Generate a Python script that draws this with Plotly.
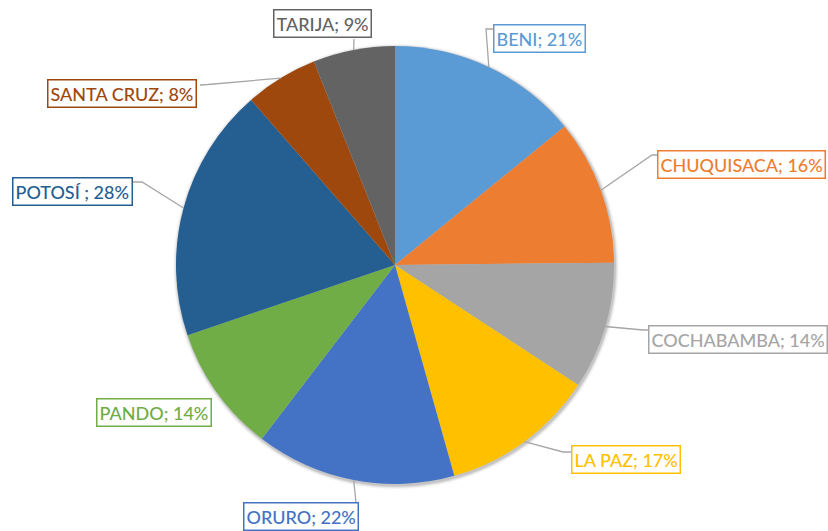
import math
import plotly.graph_objects as go

# ---- data ----
departments = ["BENI", "CHUQUISACA", "COCHABAMBA", "LA PAZ", "ORURO",
               "PANDO", "POTOSÍ", "SANTA CRUZ", "TARIJA"]
percent_values = [21, 16, 14, 17, 22, 14, 28, 8, 9]
label_texts = ["BENI; 21%", "CHUQUISACA; 16%", "COCHABAMBA; 14%", "LA PAZ; 17%",
               "ORURO; 22%", "PANDO; 14%", "POTOSÍ ; 28%", "SANTA CRUZ; 8%", "TARIJA; 9%"]

# ---- styling / layout ----
colors = ["#5B9BD5", "#ED7D31", "#A5A5A5", "#FFC000", "#4472C4",
          "#70AD47", "#255E91", "#9E480E", "#636363"]
W, H = 828, 531
CX, CY, R = 395, 265, 219  # pie centre and radius in pixels

# label box centres, leader anchor on box and bend point (pixels); None = no leader
label_layout = [
    ((539, 38.5), (494, 29), (486, 29)),
    ((741, 164.5), (660, 155), (652, 155)),
    ((738, 339), (651, 330), (643, 330)),
    ((626, 459.5), (572, 452), (563, 452)),
    ((301, 516.5), (356, 502), (356, 502)),
    ((154, 412), None, None),
    ((72, 191), (133, 182), (142, 182)),
    ((122.5, 94), (200, 85), (208, 84.5)),
    ((322, 23.5), (354, 39), (354, 39)),
]
FONT = "Lato"


def px(x):
    return x / W


def py(y):
    return 1 - y / H


fig = go.Figure(go.Pie(
    labels=departments,
    values=percent_values,
    sort=False,
    direction="clockwise",
    rotation=0,
    marker=dict(colors=colors, line=dict(width=0)),
    textinfo="none",
    hoverinfo="label+value",
    showlegend=False,
    domain=dict(x=[px(CX - R), px(CX + R)], y=[py(CY + R), py(CY - R)]),
))

shapes = []
# soft shadow around the pie
for i, op in enumerate([0.10, 0.07, 0.045, 0.025]):
    d = i + 1
    shapes.append(dict(type="circle", xref="paper", yref="paper", layer="below",
                       x0=px(CX - R - d + 1), x1=px(CX + R + d + 1),
                       y0=py(CY + R + d + 1.5), y1=py(CY - R - d + 1.5),
                       line=dict(width=0), fillcolor=f"rgba(0,0,0,{op})"))

total = sum(percent_values)
annotations = []
cum = 0
for text, val, col, (center, anchor, bend) in zip(label_texts, percent_values, colors, label_layout):
    mid = (cum + val / 2) / total * 2 * math.pi
    cum += val
    ex = CX + R * math.sin(mid)
    ey = CY - R * math.cos(mid)
    if anchor is not None:
        pts = [(ex, ey), bend, anchor]
        path = "M " + " L ".join(f"{px(x)},{py(y)}" for x, y in pts)
        shapes.append(dict(type="path", xref="paper", yref="paper", path=path,
                           line=dict(color="#A6A6A6", width=1.3), layer="above"))
    annotations.append(dict(
        x=px(center[0]), y=py(center[1]), xref="paper", yref="paper",
        text=text, showarrow=False, xanchor="center", yanchor="middle",
        font=dict(family=FONT, size=18, color=col, weight=500),
        height=22, valign="middle",
        bordercolor=col, borderwidth=1.5, borderpad=2, bgcolor="white",
    ))

fig.update_layout(
    width=W, height=H,
    margin=dict(l=0, r=0, t=0, b=0),
    paper_bgcolor="white", plot_bgcolor="white",
    shapes=shapes, annotations=annotations,
)

fig.write_html("out.html",
               config={"displayModeBar": False},
               post_script="document.body.style.margin='0';document.body.style.padding='0';")
